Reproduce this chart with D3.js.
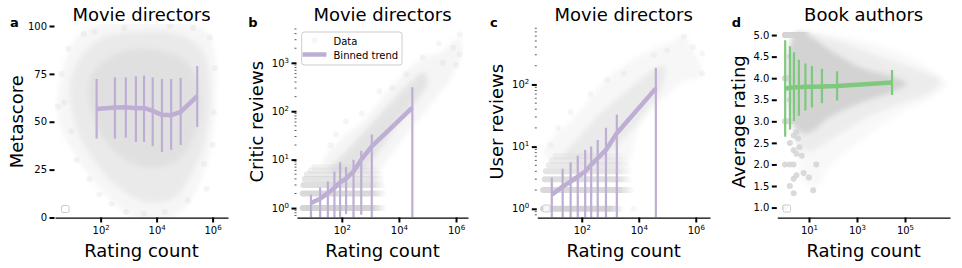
<!DOCTYPE html>
<html>
<head>
<meta charset="utf-8">
<script src="https://cdn.jsdelivr.net/npm/d3@7"></script>
<style>
  body { margin: 0; background: #fff; }
  svg text { font-family: "DejaVu Sans", sans-serif; fill: #000; }
</style>
</head>
<body>
<svg id="fig" width="962" height="268"></svg>
<script>
// ---- panel a: metascore vs rating count (movie directors)
var aBinCount = [72, 324, 794, 1820, 3550, 7240, 15500, 33100, 72400, 282000];
var aBinMean  = [56.7, 57.4, 57.6, 57.1, 57.2, 55.7, 53.6, 53.4, 55.1, 63.4];
var aBinLo    = [41.2, 41.2, 41.6, 39.4, 39.4, 37.2, 34.2, 35.4, 37.9, 47.3];
var aBinHi    = [72.3, 73.1, 73.1, 73.8, 74.2, 73.1, 72.3, 72.3, 72.8, 79.1];
// scatter cloud outlines (rating count, metascore), sparse -> dense
var aCloudOuter = [[3,66],[5,80],[10,91],[35,99],[300,102],[1e4,102],[2e5,101],[7e5,96],[1.2e6,85],[1.3e6,65],[1e6,42],[4e5,20],[1e5,5],[2e4,-1],[2e3,-1],[400,6],[80,16],[20,28],[6,40],[3,52]];
var aCloudMid   = [[8,70],[20,84],[120,94],[2e3,97],[5e4,96],[4e5,88],[8e5,70],[6e5,44],[2e5,24],[4e4,10],[4e3,8],[500,15],[80,27],[15,45]];
var aCloudCore  = [[40,72],[300,85],[5e3,88],[1e5,82],[3.5e5,66],[2.5e5,45],[6e4,30],[5e3,26],[500,32],[70,48]];
var aDots = [[4,75],[5,60],[7,88],[9,45],[14,30],[25,96],[40,20],[90,12],[250,7],[800,3],[3500,2],[2e4,3],[1.3e5,9],[5e5,28],[1.1e6,55],[1.2e6,78],[8e5,94],[2e5,99],[3e4,100],[700,99],[1e6,38],[6e5,15],[3,58],[60,97]];

// ---- panel b: critic reviews
var bBinCount = [8.3, 17.4, 32.4, 55, 87, 141, 257, 479, 1122, 29500];
var bBinMean  = [1.27, 1.56, 2.04, 2.6, 3.4, 4.05, 5.7, 10, 18.8, 118];
var bBinLo    = [0, 0, 0, 0, 0, 0.75, 0, 0.73, 0, 0];
var bBinHi    = [1.89, 2.67, 3.55, 5.7, 8.8, 7.06, 10, 15.3, 33, 313];
var bCloudOuter = [[21,8],[36,15],[140,33],[550,62],[2100,160],[8100,420],[69000,1260],[350000,1740],[1.35e6,3300],[1.5e6,1500],[6e5,420],[2e5,190],[69000,85],[23000,39],[8100,17],[3500,9],[2100,5.8],[316,6.3],[63,6]];
var bCloudCore  = [[36,5.8],[160,16],[800,45],[4000,126],[25000,400],[80000,630],[1e5,355],[32000,140],[6300,40],[1600,12.6],[500,6.3]];
var bRowValue = [1, 2, 3, 4, 5, 6, 7];
var bRowStart = [4.3, 4.3, 4.5, 5, 6, 8, 11];
var bRowDense = [1200, 1200, 1200, 1100, 1000, 800, 600];
var bRowEnd   = [3600, 3800, 3600, 3200, 3000, 2500, 2000];
var bDots = [[1.35e6,3900],[1.35e6,1500],[69000,1300],[18000,580],[2100,260],[140,62],[63,33],[350000,1000],[780000,2050],[2.5e5,2500],[6000,300],[1e6,900],[40,20],[500,90]];

// ---- panel c: user reviews
var cBinCount = [8.9, 21.4, 40.7, 72.4, 132, 214, 363, 708, 1700, 39800];
var cBinMean  = [1.68, 2.28, 2.74, 3.3, 3.98, 5.1, 6.5, 8.85, 16.4, 86.5];
var cBinLo    = [0, 0, 0, 0, 0, 0, 0, 0, 0, 0];
var cBinHi    = [3.18, 4.39, 5.6, 7.1, 8.85, 10, 12.8, 20.2, 33, 185];
var cCloudOuter = [[4.7,7.4],[13.5,17],[40,25],[155,52],[590,110],[2950,204],[19500,330],[130000,490],[380000,620],[650000,430],[1.66e6,140],[380000,110],[130000,74],[34000,42],[11500,22],[6600,10.7],[4000,5.6],[10,5.6]];
var cCloudCore  = [[25,7],[100,16],[630,40],[4000,80],[25000,160],[80000,200],[63000,90],[16000,35],[3200,14],[630,7]];
var cRowValue = [1, 2, 3, 4, 5, 6, 7];
var cRowStart = [4.4, 4.4, 5, 5.5, 7, 9, 12];
var cRowDense = [1000, 2000, 1800, 1800, 1500, 1200, 900];
var cRowEnd   = [3000, 7400, 6000, 6000, 5500, 4500, 3500];
var cDots = [[1.66e6,316],[1.66e6,150],[380000,590],[6600,1],[780,117],[40,36],[8,10.7],[34000,295],[8e5,400],[1e5,350],[3000,150],[200,70],[15,20]];

// ---- panel d: book authors, average rating
var dBinCount = [1.02, 1.62, 2.37, 3.8, 7.1, 13.3, 34.7, 148, 28800];
var dBinMean  = [3.76, 3.78, 3.79, 3.79, 3.80, 3.80, 3.81, 3.82, 3.90];
var dBinLo    = [2.64, 2.81, 3.01, 3.13, 3.25, 3.32, 3.42, 3.48, 3.61];
var dBinHi    = [4.88, 4.74, 4.60, 4.43, 4.34, 4.28, 4.22, 4.16, 4.19];
var dCloudOuter = [[2,5.05],[8.3,5.08],[9100,4.75],[4e5,4.36],[2.8e6,4.05],[5.5e6,3.84],[1.5e6,3.57],[117000,3.26],[9100,2.88],[700,2.41],[76,1.95],[21,1.5],[6,1.6],[3.5,2.2],[2,3.5]];
var dCloudMid   = [[2.5,5.0],[100,4.9],[3000,4.6],[1e5,4.3],[1e6,4.1],[3e6,3.95],[1e6,3.65],[1e5,3.45],[3000,3.1],[100,2.6],[10,2.3],[3,2.5]];
var dCloudCore  = [[2.5,5.0],[8.3,5.0],[76,4.65],[1260,4.26],[31600,4.03],[117000,3.88],[31600,3.69],[1260,3.42],[76,3.1],[8.3,2.72],[2.5,2.9]];
var dRowValue = [5, 4, 3];
var dRowStart = [1, 1, 1];
var dRowDense = [6, 8, 8];
var dRowEnd   = [12, 15, 20];
var dDots = [[1,5],[1,4],[1,3],[1,2],[1,1],[1.6,5],[1.6,4.5],[1.6,3.5],[1.6,2.5],[1.6,2],[1.6,1.5],[2.3,2.67],[2.3,2.33],[2.3,2],[2.3,1.67],[2.3,1.33],[3,2.75],[3,2.25],[3,1.75],[3.5,2.6],[4,2.4],[5,2.2],[6,1.8],[10,1.7],[15,1.4],[20,2.0]];

var PURPLE = '#beaed4', GREEN = '#7fc97f', GREY = '#d3d3d3';
var TOP = 26, BOTTOM = 217.5;

var svg = d3.select('#fig');
var defs = svg.append('defs');
defs.append('filter').attr('id', 'soft')
  .attr('x', '-20%').attr('y', '-20%').attr('width', '140%').attr('height', '140%')
  .append('feGaussianBlur').attr('stdDeviation', 2.5);

function bins(count, mean, lo, hi) {
  return count.map(function(c, i) { return {x: c, m: mean[i], lo: lo[i], hi: hi[i]}; });
}
function rows(value, start, dense, end) {
  return value.map(function(v, i) { return {v: v, s: start[i], d: dense[i], e: end[i]}; });
}

var panels = [
  {id: 'a', letterX: 10, left: 55, right: 228, xExp: [0.37, 6.55], xTicks: [1e2, 1e4, 1e6],
   yLog: false, yDomain: [0, 100], yTicks: [0, 25, 50, 75, 100], yFmt: d3.format('d'),
   title: 'Movie directors', ylabel: 'Metascore', ylabelX: 23,
   clouds: [aCloudOuter, aCloudMid, aCloudCore], cloudOp: [0.2, 0.32, 0.4], rows: [], dots: aDots, dotOp: 0.25,
   bins: bins(aBinCount, aBinMean, aBinLo, aBinHi), color: PURPLE, legend: [61.5, 205.5]},
  {id: 'b', letterX: 248.3, left: 297, right: 468, xExp: [0.43, 6.42], xTicks: [1e2, 1e4, 1e6],
   yLog: true, yDomain: [Math.pow(10, -0.195), Math.pow(10, 3.76)], yTicks: [1, 10, 100, 1000],
   title: 'Movie directors', ylabel: 'Critic reviews', ylabelX: 263,
   clouds: [bCloudOuter, bCloudCore], cloudOp: [0.22, 0.5], rows: rows(bRowValue, bRowStart, bRowDense, bRowEnd),
   dots: bDots, dotOp: 0.22, bins: bins(bBinCount, bBinMean, bBinLo, bBinHi), color: PURPLE, legend: null},
  {id: 'c', letterX: 490, left: 537.3, right: 710, xExp: [0.44, 6.5], xTicks: [1e2, 1e4, 1e6],
   yLog: true, yDomain: [Math.pow(10, -0.14), Math.pow(10, 2.94)], yTicks: [1, 10, 100],
   title: 'Movie directors', ylabel: 'User reviews', ylabelX: 503,
   clouds: [cCloudOuter, cCloudCore], cloudOp: [0.18, 0.35], rows: rows(cRowValue, cRowStart, cRowDense, cRowEnd),
   dots: cDots, dotOp: 0.2, bins: bins(cBinCount, cBinMean, cBinLo, cBinHi), color: PURPLE, legend: [542.7, 205]},
  {id: 'd', letterX: 731.7, left: 777.3, right: 950, xExp: [-0.32, 6.875], xTicks: [10, 1e3, 1e5],
   yLog: false, yDomain: [0.77, 5.21], yTicks: d3.range(1, 5.01, 0.5), yFmt: d3.format('.1f'),
   title: 'Book authors', ylabel: 'Average rating', ylabelX: 745,
   clouds: [dCloudOuter, dCloudMid, dCloudCore], cloudOp: [0.15, 0.3, 1], rows: rows(dRowValue, dRowStart, dRowDense, dRowEnd),
   dots: dDots, dotOp: 0.85, bins: bins(dBinCount, dBinMean, dBinLo, dBinHi), color: GREEN, legend: [783, 205]}
];

// writes 10^k as "10" with a raised exponent
function powLabel(sel, v) {
  var e = Math.round(Math.log10(v));
  sel.text('');
  sel.append('tspan').text('10');
  sel.append('tspan').attr('dy', -4).attr('font-size', 7).text(e);
}

function drawPanel(p) {
  var x = d3.scaleLog().domain([Math.pow(10, p.xExp[0]), Math.pow(10, p.xExp[1])]).range([p.left, p.right]);
  var y = (p.yLog ? d3.scaleLog() : d3.scaleLinear()).domain(p.yDomain).range([BOTTOM, TOP]);
  var g = svg.append('g').attr('class', 'panel-' + p.id);

  defs.append('clipPath').attr('id', 'clip-' + p.id)
    .append('rect').attr('x', p.left).attr('y', TOP - 2)
    .attr('width', p.right - p.left).attr('height', BOTTOM - TOP + 2);
  var plot = g.append('g').attr('clip-path', 'url(#clip-' + p.id + ')');

  // scatter cloud as blurred density layers
  var area = d3.line().x(function(d) { return x(d[0]); }).y(function(d) { return y(d[1]); })
    .curve(d3.curveCatmullRomClosed);
  p.clouds.forEach(function(pts, i) {
    plot.append('path').attr('d', area(pts))
      .attr('fill', GREY).attr('opacity', p.cloudOp[i]).attr('filter', 'url(#soft)');
  });

  // rows of integer values, fading at the right end
  p.rows.forEach(function(r, i) {
    var op = Math.max(0.3, 1 - i * 0.13);
    var x0 = x(r.s), x1 = x(r.e);
    var gid = 'row-' + p.id + '-' + i;
    var grad = defs.append('linearGradient').attr('id', gid)
      .attr('gradientUnits', 'userSpaceOnUse').attr('x1', x0).attr('x2', x1).attr('y1', 0).attr('y2', 0);
    grad.append('stop').attr('offset', 0).attr('stop-color', GREY).attr('stop-opacity', op);
    grad.append('stop').attr('offset', (x(r.d) - x0) / (x1 - x0)).attr('stop-color', GREY).attr('stop-opacity', op);
    grad.append('stop').attr('offset', 1).attr('stop-color', GREY).attr('stop-opacity', 0);
    plot.append('line').attr('x1', x0).attr('x2', x1).attr('y1', y(r.v)).attr('y2', y(r.v))
      .attr('stroke', 'url(#' + gid + ')').attr('stroke-width', 6).attr('stroke-linecap', 'round');
  });

  plot.selectAll('circle.pt').data(p.dots).enter().append('circle').attr('class', 'pt')
    .attr('cx', function(d) { return x(d[0]); }).attr('cy', function(d) { return y(d[1]); })
    .attr('r', 3).attr('fill', GREY).attr('opacity', p.dotOp);

  // error bars, then binned trend
  var yMin = p.yDomain[0];
  plot.selectAll('line.err').data(p.bins).enter().append('line').attr('class', 'err')
    .attr('x1', function(d) { return x(d.x); }).attr('x2', function(d) { return x(d.x); })
    .attr('y1', function(d) { return y(Math.max(d.lo, yMin)); }).attr('y2', function(d) { return y(d.hi); })
    .attr('stroke', p.color).attr('stroke-width', 2.2);
  plot.append('path').datum(p.bins)
    .attr('d', d3.line().x(function(d) { return x(d.x); }).y(function(d) { return y(d.m); }))
    .attr('fill', 'none').attr('stroke', p.color).attr('stroke-width', 4.5)
    .attr('stroke-linejoin', 'round').attr('stroke-linecap', 'butt');

  // x axis
  var xa = g.append('g').attr('transform', 'translate(0,' + BOTTOM + ')')
    .call(d3.axisBottom(x).tickValues(p.xTicks).tickSize(5).tickSizeOuter(0).tickPadding(4));
  xa.select('.domain').attr('stroke', '#000').attr('stroke-width', 1.25);
  xa.selectAll('.tick line').attr('stroke', '#000').attr('stroke-width', 2);
  xa.selectAll('.tick text').attr('font-size', 10).attr('fill', '#000')
    .each(function(d) { powLabel(d3.select(this), d); });

  // y axis (no spine)
  var ya = g.append('g').attr('transform', 'translate(' + p.left + ',0)')
    .call(d3.axisLeft(y).tickValues(p.yTicks).tickSize(5).tickPadding(3));
  ya.select('.domain').remove();
  ya.selectAll('.tick line').attr('stroke', '#000').attr('stroke-width', 2).attr('transform', 'translate(-0.5,0)');
  ya.selectAll('.tick text').attr('font-size', 10).attr('fill', '#000')
    .each(function(d) {
      if (p.yLog) powLabel(d3.select(this), d);
      else d3.select(this).text(p.yFmt(d));
    });
  if (p.yLog) {
    var minor = [];
    for (var e = -1; e <= 4; e++) {
      for (var k = 2; k <= 9; k++) {
        var v = k * Math.pow(10, e);
        if (v >= p.yDomain[0] && v <= p.yDomain[1]) minor.push(v);
      }
    }
    ya.selectAll('line.minor').data(minor).enter().append('line').attr('class', 'minor')
      .attr('x1', -2.5).attr('x2', -0.5).attr('y1', function(d) { return y(d); }).attr('y2', function(d) { return y(d); })
      .attr('stroke', '#333').attr('stroke-width', 0.8);
  }

  // texts
  g.append('text').attr('x', (p.left + p.right) / 2).attr('y', 21).attr('text-anchor', 'middle')
    .attr('font-size', 18).text(p.title);
  g.append('text').attr('x', (p.left + p.right) / 2).attr('y', 257).attr('text-anchor', 'middle')
    .attr('font-size', 18).text('Rating count');
  g.append('text').attr('transform', 'translate(' + p.ylabelX + ',' + ((TOP + BOTTOM) / 2) + ') rotate(-90)')
    .attr('text-anchor', 'middle').attr('font-size', 18).text(p.ylabel);
  g.append('text').attr('x', p.letterX).attr('y', 26.5).attr('font-size', 13).attr('font-weight', 'bold').text(p.id);

  // empty legend frame
  if (p.legend) {
    g.append('rect').attr('x', p.legend[0]).attr('y', p.legend[1]).attr('width', 7.5).attr('height', 7)
      .attr('rx', 1.5).attr('fill', '#fff').attr('fill-opacity', 0.8).attr('stroke', '#cccccc').attr('stroke-width', 1);
  }
}

panels.forEach(drawPanel);

// legend of panel b
var lg = svg.append('g');
lg.append('rect').attr('x', 301.7).attr('y', 32).attr('width', 100.3).attr('height', 33).attr('rx', 2.5)
  .attr('fill', '#fff').attr('fill-opacity', 0.8).attr('stroke', '#cccccc').attr('stroke-width', 1);
lg.append('circle').attr('cx', 314.5).attr('cy', 40.5).attr('r', 3).attr('fill', GREY).attr('opacity', 0.2);
lg.append('text').attr('x', 333.5).attr('y', 44.5).attr('font-size', 10).text('Data');
lg.append('line').attr('x1', 302.5).attr('x2', 326.5).attr('y1', 54.5).attr('y2', 54.5)
  .attr('stroke', PURPLE).attr('stroke-width', 4.5);
lg.append('text').attr('x', 333.5).attr('y', 58.5).attr('font-size', 10).text('Binned trend');
</script>
</body>
</html>
